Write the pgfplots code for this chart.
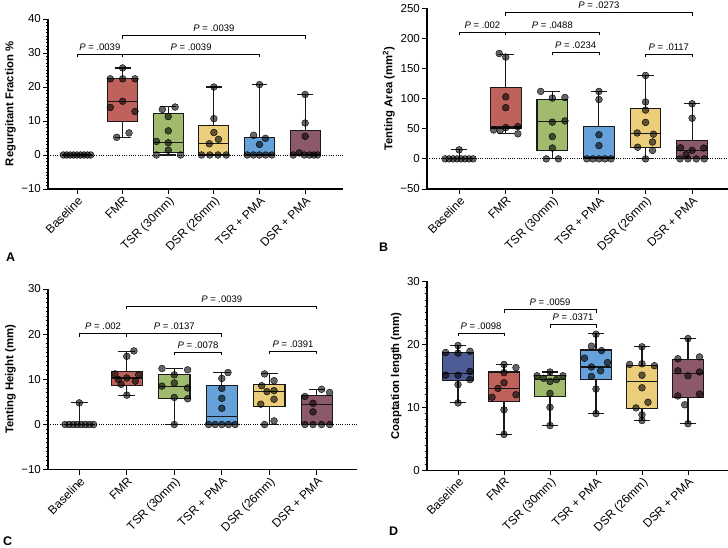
\documentclass[border=0pt]{standalone}
\usepackage{fontspec}
\setmainfont{Liberation Sans}
\usepackage{pgfplots}
\pgfplotsset{compat=1.18}
\usepgfplotslibrary{statistics}
\definecolor{cbase}{HTML}{4E5C96}
\definecolor{cfmr}{HTML}{C0625C}
\definecolor{ctsr}{HTML}{A0BA6E}
\definecolor{cdsr}{HTML}{ECCD7A}
\definecolor{ctsrp}{HTML}{66A1DA}
\definecolor{cdsrp}{HTML}{8C586C}
\newcommand{\bracket}[6]{%
  \addplot[black, line width=0.75pt, forget plot] coordinates {(#1,#5)(#1,#4)(#2,#4)(#2,#5)};
  \node[anchor=south, font=\fontsize{9.5}{10}\selectfont, inner sep=0pt, yshift=3.5pt] at (axis cs:#3,#4) {\textit{P} = #6};
}
\newcommand{\bx}[7]{% pos, lw, lq, med, uq, uw, color
  \addplot[boxplot prepared={draw direction=y, draw position=#1, lower whisker=#2, lower quartile=#3, median=#4, upper quartile=#5, upper whisker=#6, box extend=0.66, whisker extend=0.35}, draw=black!90, line width=1.1pt, fill=#7, forget plot] coordinates {};
}
\pgfplotsset{
  myaxis/.style={
    scale only axis, clip=false,
    axis x line*=bottom, axis y line*=left,
    axis line style={line width=1.1pt, black},
    every tick/.style={black, line width=0.9pt},
    tick align=outside, major tick length=5pt, minor tick length=2.5pt,
    xtick={0,1,2,3,4,5},
    x tick label style={rotate=45, anchor=north east, inner sep=1pt, font=\fontsize{12}{13}\selectfont},
    y tick label style={font=\fontsize{11.5}{12}\selectfont, inner sep=2pt},
    ylabel style={font=\bfseries\fontsize{11.3}{12}\selectfont},
  },
  pts/.style={only marks, mark=*, mark size=3.4pt, mark options={draw=none, fill=black, fill opacity=0.6}, forget plot},
  zline/.style={black, line width=0.9pt, dash pattern=on 0.8pt off 1.5pt, forget plot},
}
\begin{document}
\begin{tikzpicture}
\path[use as bounding box] (0pt,0pt) rectangle (728pt,548pt);
% ---------------- A ----------------
\begin{axis}[myaxis, at={(48pt,359pt)}, anchor=south west, width=295pt, height=170pt,
  xmin=-0.636, xmax=5.83, ymin=-10, ymax=40,
  ytick={-10,0,10,20,30,40}, yticklabels={−10,0,10,20,30,40}, minor y tick num=9,
  xticklabels={Baseline,FMR,TSR (30mm),DSR (26mm),TSR + PMA,DSR + PMA},
  ylabel={Regurgitant Fraction \%}]
\addplot[zline] coordinates {(-0.636,0)(5.83,0)};
\bx{0}{0}{0}{0}{0}{0}{white}
\bx{1}{5.2}{9.9}{15.8}{22.4}{25.6}{cfmr}
\bx{2}{0}{0.8}{3.7}{12.2}{14.2}{ctsr}
\bx{3}{0}{0}{3.3}{8.6}{20.0}{cdsr}
\bx{4}{0}{0}{0}{5.2}{20.7}{ctsrp}
\bx{5}{0}{0}{0.2}{7.3}{17.8}{cdsrp}
\addplot[pts] coordinates {(-0.3,0)(-0.225,0)(-0.15,0)(-0.075,0)(0,0)(0.075,0)(0.15,0)(0.225,0)(0.3,0)};
\addplot[pts] coordinates {(1,25.6)(0.73,22.4)(1,22.4)(1.27,22.4)(1,15.8)(0.73,14.0)(1.27,12.8)(1.14,6.5)(0.87,5.2)};
\addplot[pts] coordinates {(1.87,13.4)(2.15,14.1)(2,11.3)(2,7.1)(1.74,4.0)(2,3.6)(2,1.4)(1.74,0)(2.27,0)};
\addplot[pts] coordinates {(3,20.0)(3,10.7)(3,6.6)(3.1,4.6)(2.9,3.3)(2.73,0)(2.91,0)(3.09,0)(3.27,0)};
\addplot[pts] coordinates {(4,20.7)(3.87,5.8)(4.13,4.9)(4,3.1)(3.73,0)(3.865,0)(4,0)(4.135,0)(4.27,0)};
\addplot[pts] coordinates {(5,17.8)(5,9.4)(5,5.5)(4.87,0.6)(4.74,0)(4.98,0)(5.1,0)(5.19,0)(5.27,0)};
\bracket{0}{1}{0.5}{29.6}{28.7}{.0039}
\bracket{1}{4}{2.5}{29.6}{28.7}{.0039}
\bracket{1}{5}{3}{35.1}{34.2}{.0039}
\end{axis}
% ---------------- B ----------------
\begin{axis}[myaxis, at={(427pt,359pt)}, anchor=south west, width=301pt, height=180.7pt,
  xmin=-0.69, xmax=5.77, ymin=-50, ymax=250,
  ytick={-50,0,50,100,150,200,250}, yticklabels={−50,0,50,100,150,200,250},
  xticklabels={Baseline,FMR,TSR (30mm),TSR + PMA,DSR (26mm),DSR + PMA},
  ylabel={Tenting Area (mm\textsuperscript{2})}]
\addplot[zline] coordinates {(-0.69,0)(5.77,0)};
\bx{0}{0}{0}{0}{0}{15}{white}
\bx{1}{41.6}{50}{53}{118}{174}{cfmr}
\bx{2}{0}{14}{61.5}{99}{112}{ctsr}
\bx{3}{0}{0}{2}{54}{112}{ctsrp}
\bx{4}{0}{19.4}{42}{84}{138.5}{cdsr}
\bx{5}{0}{0}{14}{31}{91.5}{cdsrp}
\addplot[pts] coordinates {(0,15)(-0.3,0)(-0.214,0)(-0.128,0)(-0.043,0)(0.043,0)(0.128,0)(0.214,0)(0.3,0)};
\addplot[pts] coordinates {(0.86,175)(1,169)(1,103)(1,85)(1.26,53.5)(1,52)(0.74,48)(0.88,47)(1.26,41.6)};
\addplot[pts] coordinates {(1.75,112)(2,101)(2.27,102)(2,61)(2.27,63)(2,37)(2,18)(1.87,0)(2.13,0)};
\addplot[pts] coordinates {(3,112)(3,98.5)(3,40)(3,22)(2.74,0)(2.87,0)(3,0)(3.13,0)(3.26,0)};
\addplot[pts] coordinates {(4,138.5)(4,94.5)(4,81)(4,60.5)(3.82,43)(4.17,41)(4.15,28)(3.83,19.4)(4.15,14)(4,0)};
\addplot[pts] coordinates {(5,91.5)(5,67.5)(4.75,18.5)(5.25,18)(5,14)(4.87,7)(4.74,0)(4.91,0)(5.09,0)(5.26,0)};
\bracket{0}{1}{0.5}{210.6}{205.6}{.002}
\bracket{1}{3}{2}{210.6}{205.6}{.0488}
\bracket{1}{5}{3}{242.8}{237.8}{.0273}
\bracket{2}{3}{2.5}{176.8}{171.8}{.0234}
\bracket{4}{5}{4.5}{173.5}{168.5}{.0117}
\end{axis}
% ---------------- C ----------------
\begin{axis}[myaxis, at={(48pt,78.3pt)}, anchor=south west, width=309pt, height=180.7pt,
  xmin=-0.659, xmax=5.846, ymin=-10, ymax=30,
  ytick={-10,0,10,20,30}, yticklabels={−10,0,10,20,30}, minor y tick num=9,
  xticklabels={Baseline,FMR,TSR (30mm),TSR + PMA,DSR (26mm),DSR + PMA},
  ylabel={Tenting Height (mm)}]
\addplot[zline] coordinates {(-0.659,0)(5.846,0)};
\bx{0}{0}{0}{0}{0}{4.8}{white}
\bx{1}{6.5}{8.6}{10.3}{11.7}{16.2}{cfmr}
\bx{2}{0}{5.7}{8.4}{11.1}{12.4}{ctsr}
\bx{3}{0}{0}{1.8}{8.7}{11.5}{ctsrp}
\bx{4}{0}{4.0}{7.3}{8.8}{11.2}{cdsr}
\bx{5}{0}{0}{4.4}{6.5}{7.8}{cdsrp}
\addplot[pts] coordinates {(0,4.8)(-0.3,0)(-0.214,0)(-0.128,0)(-0.043,0)(0.043,0)(0.128,0)(0.214,0)(0.3,0)};
\addplot[pts] coordinates {(1.15,16.3)(1,15.1)(0.75,11.2)(1.25,11.0)(1,10.3)(0.82,10.0)(1.18,9.6)(0.88,8.9)(1,6.5)};
\addplot[pts] coordinates {(1.74,12.4)(2.28,12.1)(2,11.0)(2,9.2)(1.74,8.5)(2.28,8.1)(2,6.0)(2.28,5.7)(2,0)};
\addplot[pts] coordinates {(3.13,11.5)(3,10.2)(3,8.0)(3,5.8)(3,3.6)(2.72,0)(2.86,0)(3,0)(3.14,0)(3.28,0)};
\addplot[pts] coordinates {(3.9,11.2)(4.1,9.7)(3.84,8.6)(4.1,7.5)(3.95,7.3)(4.1,5.6)(3.82,4.5)(4.1,0.8)(3.9,0)};
\addplot[pts] coordinates {(5.1,7.8)(5.27,7.1)(4.75,6.2)(4.92,4.7)(4.92,2.8)(4.75,0)(4.92,0)(5.1,0)(5.27,0)};
\bracket{0}{1}{0.5}{20.1}{19.44}{.002}
\bracket{1}{3}{2}{20.1}{19.44}{.0137}
\bracket{1}{5}{3}{26.2}{25.54}{.0039}
\bracket{2}{3}{2.5}{16.0}{15.34}{.0078}
\bracket{4}{5}{4.5}{16.2}{15.54}{.0391}
\end{axis}
% ---------------- D ----------------
\begin{axis}[myaxis, at={(427pt,77.7pt)}, anchor=south west, width=301pt, height=189pt,
  xmin=-0.674, xmax=5.87, ymin=0, ymax=30,
  ytick={0,10,20,30}, yticklabels={0,10,20,30}, minor y tick num=9,
  xticklabels={Baseline,FMR,TSR (30mm),TSR + PMA,DSR (26mm),DSR + PMA},
  ylabel={Coaptation length (mm)}]
\bx{0}{10.7}{14.3}{15.4}{18.7}{19.8}{cbase}
\bx{1}{5.7}{10.9}{13.0}{15.6}{16.8}{cfmr}
\bx{2}{7.1}{11.7}{14.4}{15.0}{15.6}{ctsr}
\bx{3}{9.0}{14.4}{16.4}{19.1}{21.7}{ctsrp}
\bx{4}{7.9}{9.8}{14.1}{16.7}{19.6}{cdsr}
\bx{5}{7.4}{11.5}{15.3}{17.6}{20.9}{cdsrp}
\addplot[pts] coordinates {(0,19.8)(-0.27,18.7)(0,18.6)(0.26,18.9)(0.26,15.7)(-0.27,15.1)(0,15.1)(0.26,14.4)(0,13.6)(0,10.7)};
\addplot[pts] coordinates {(1,16.8)(1.26,16.3)(1,15.5)(1,13.9)(0.87,13.0)(1.26,12.0)(0.74,11.6)(1,9.6)(1,5.7)};
\addplot[pts] coordinates {(2,15.6)(1.72,15.0)(2.28,15.0)(1.86,14.6)(2.14,14.4)(2,14.1)(2,12.2)(2,10.0)(2,7.1)};
\addplot[pts] coordinates {(3,21.6)(2.9,19.7)(3.12,19.0)(2.75,17.8)(3.25,17.1)(2.9,16.4)(3.1,15.8)(2.9,14.9)(3,12.9)(3,9.0)};
\addplot[pts] coordinates {(4,19.6)(3.73,16.8)(4,16.9)(4.27,16.6)(4,15.1)(4,13.1)(4.13,10.8)(3.87,9.9)(4,8.8)(4,7.9)};
\addplot[pts] coordinates {(5,20.9)(4.78,17.7)(5.25,18.0)(4.78,15.8)(5.25,15.6)(5,15.0)(5.25,12.1)(4.78,11.8)(4.93,10.4)(5,7.4)};
\bracket{0}{1}{0.5}{21.8}{21.3}{.0098}
\bracket{1}{3}{2}{25.5}{25.0}{.0059}
\bracket{2}{3}{2.5}{23.1}{22.6}{.0371}
\end{axis}
% panel letters
\node[anchor=base west, inner sep=0pt, font=\bfseries\fontsize{12.5}{14}\selectfont] at (6pt,286pt) {A};
\node[anchor=base west, inner sep=0pt, font=\bfseries\fontsize{12.5}{14}\selectfont] at (379pt,296pt) {B};
\node[anchor=base west, inner sep=0pt, font=\bfseries\fontsize{12.5}{14}\selectfont] at (3pt,2pt) {C};
\node[anchor=base west, inner sep=0pt, font=\bfseries\fontsize{12.5}{14}\selectfont] at (389pt,12pt) {D};
\end{tikzpicture}
\end{document}
